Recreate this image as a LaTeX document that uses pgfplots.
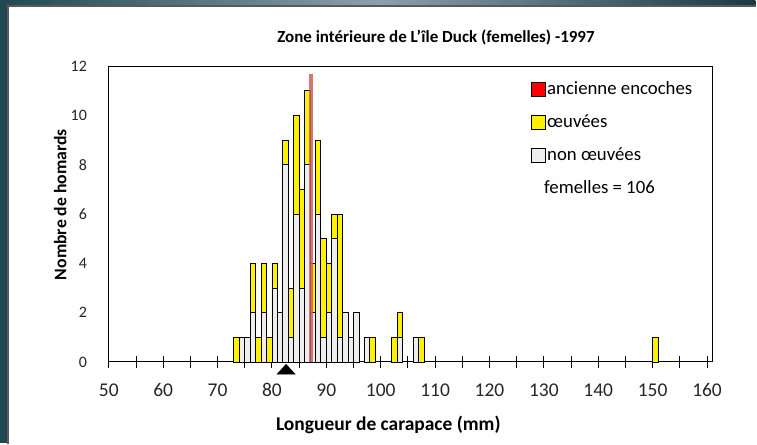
\documentclass[border=0pt]{standalone}
\usepackage{pgfplots}
\pgfplotsset{compat=1.18}
\usepackage{fontspec}
\setmainfont{Carlito}
\definecolor{bgdark}{RGB}{32,72,82}
\definecolor{bgmid}{RGB}{140,160,172}
\definecolor{redline}{RGB}{205,95,95}
\definecolor{nonoeuv}{RGB}{238,238,238}
\pgfplotstableread{
x tot
73.5 1
74.5 1
75.5 1
76.5 4
77.5 1
78.5 4
79.5 1
80.5 4
81.5 2
82.5 9
83.5 3
84.5 10
85.5 7
86.5 11
87.5 4
88.5 9
89.5 5
90.5 4
91.5 6
92.5 6
93.5 2
94.5 1
95.5 2
97.5 1
98.5 1
102.5 1
103.5 2
106.5 1
107.5 1
150.5 1
}\oeuvees
\pgfplotstableread{
x n
74.5 1
75.5 1
76.5 2
78.5 2
80.5 3
81.5 2
82.5 8
83.5 1
84.5 6
85.5 3
86.5 8
87.5 2
88.5 6
89.5 1
90.5 2
91.5 5
92.5 1
93.5 2
94.5 1
95.5 2
97.5 1
103.5 1
106.5 1
}\nonoeuvees
\begin{document}
\begin{tikzpicture}[x=1pt,y=1pt]
\fill[bgdark] (0,0) rectangle (757,444);
\shade[left color=bgdark, right color=bgmid] (0,438) rectangle (380,444);
\shade[left color=bgmid, right color=bgdark!80!black] (380,438) rectangle (757,444);
\fill[white] (8,0) rectangle (757,438);
\draw[gray!70!black, line width=1.2pt] (8,-1) -- (8,438) -- (758,438);
\begin{axis}[
  at={(109pt,81.3pt)}, anchor=south west,
  width=605pt, height=296.4pt, scale only axis,
  xmin=50, xmax=161, ymin=0, ymax=12,
  clip=false,
  axis line style={black, line width=0.9pt},
  xtick={50,60,...,160},
  minor xtick={55,65,...,155},
  xtick pos=left, ytick pos=left,
  tick align=center,
  major tick length=11.5pt, minor tick length=11.5pt,
  every tick/.style={black, line width=0.9pt},
  ytick={0,2,...,12},
  ytick style={draw=none},
  /pgf/number format/assume math mode=true,
  tick label style={text=black!85},
  yticklabel style={font=\fontsize{16}{19}\selectfont, inner sep=0pt, xshift=-16pt},
  xticklabel style={font=\fontsize{19.5}{22}\selectfont, inner sep=0pt, anchor=base, yshift=-29pt},
  title={Zone intérieure de L'île Duck (femelles) -1997},
  title style={at={(axis description cs:0.542,1.0607)}, anchor=base, font=\fontsize{17}{20}\selectfont\bfseries},
  xlabel={Longueur de carapace (mm)},
  xlabel style={at={(axis description cs:0.463,-0.2328)}, anchor=base, font=\fontsize{19.5}{22}\selectfont\bfseries},
  ylabel={Nombre de homards},
  ylabel style={at={(axis description cs:-0.0702,0.532)}, anchor=base, rotate=0, font=\fontsize{17.7}{21}\selectfont\bfseries},
  legend image code/.code={\draw[#1, draw=black, line width=0.8pt] (0pt,-7pt) rectangle (14pt,7pt);},
  legend style={at={(axis description cs:0.694,0.96)}, anchor=north west, draw=none, fill=none,
    font=\fontsize{18.8}{22}\selectfont, row sep=15.7pt, cells={anchor=west},
    nodes={inner sep=1.5pt}},
]
\addplot[ybar, bar width=1, bar shift=0pt, fill=yellow, draw=black, line width=0.8pt, forget plot] table[x=x, y=tot] {\oeuvees};
\addplot[ybar, bar width=1, bar shift=0pt, fill=nonoeuv, draw=black, line width=0.8pt, forget plot] table[x=x, y=n] {\nonoeuvees};
\addplot[redline, line width=3.3pt, opacity=0.85, forget plot] coordinates {(87.2,0) (87.2,11.69)};
\addplot[only marks, mark=triangle*, mark size=6.5pt, mark options={xscale=1.6, fill=black, draw=black}, forget plot] coordinates {(82.6,-0.36)};
\addlegendimage{fill=red}
\addlegendentry{ancienne encoches}
\addlegendimage{fill=yellow}
\addlegendentry{œuvées}
\addlegendimage{fill=nonoeuv}
\addlegendentry{non œuvées}
\addlegendimage{empty legend}
\addlegendentry{\hspace*{-3pt}femelles = 106}
\end{axis}
\end{tikzpicture}
\end{document}
